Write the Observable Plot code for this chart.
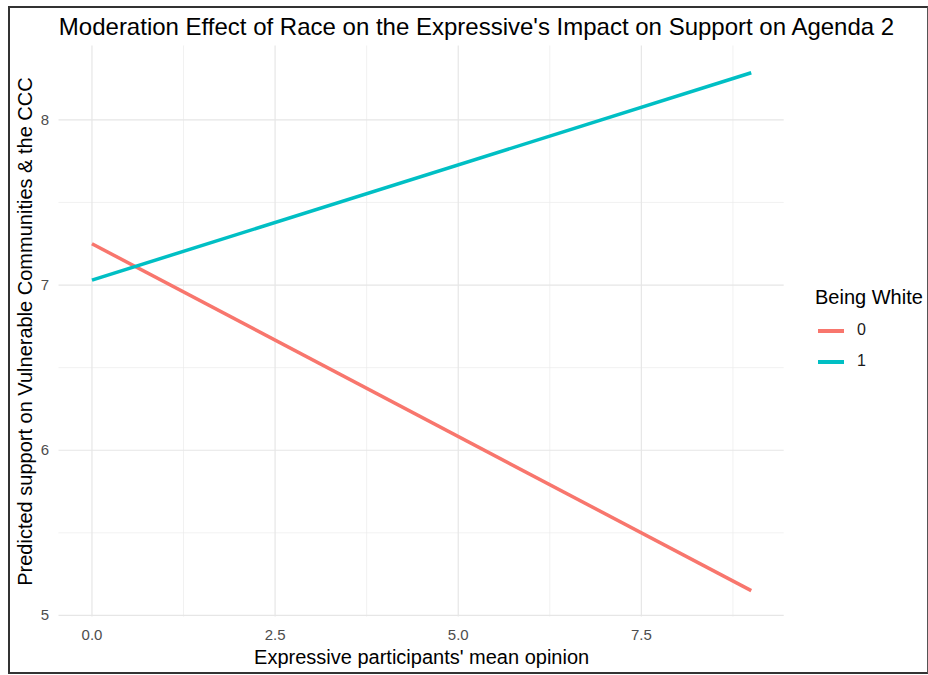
<!DOCTYPE html>
<html>
<head>
<meta charset="utf-8">
<script src="https://cdn.jsdelivr.net/npm/d3@7"></script>
<script src="https://cdn.jsdelivr.net/npm/@observablehq/plot@0.6"></script>
<style>
  html, body { margin: 0; padding: 0; background: #fff; }
  body { font-family: "Liberation Sans", Arial, sans-serif; }
  #wrap { position: relative; width: 928px; height: 675px; overflow: hidden; background: #fff; }
  #frame { position: absolute; left: 8px; top: 6px; width: 920px; height: 668px;
           border: 2px solid #333; border-right: 1.5px solid #555;
           box-sizing: border-box; pointer-events: none; z-index: 5; }
  #title { position: absolute; left: 0; top: 13px; width: 953px; text-align: center;
           font-size: 24px; line-height: 28px; color: #000; white-space: nowrap; }
  #chart { position: absolute; left: 0; top: 44px; }
  #legend { position: absolute; left: 815px; top: 284px; color: #000; white-space: nowrap; }
  #legend .lt { font-size: 20px; line-height: 26px; margin-bottom: 8px; }
  #legend .row { position: relative; height: 31px; }
  #legend .key { position: absolute; left: 3px; top: 11px; width: 26px; height: 3.5px; }
  #legend .lab { position: absolute; left: 42px; top: 1px; font-size: 16px; line-height: 22px; color: #1a1a1a; }
</style>
</head>
<body>
<div id="wrap">
  <div id="frame"></div>
  <div id="title"></div>
  <div id="chart"></div>
  <div id="legend"></div>
</div>
<script>
// ---- data ----
const titleText = "Moderation Effect of Race on the Expressive's Impact on Support on Agenda 2";
const xTitle = "Expressive participants' mean opinion";
const yTitle = "Predicted support on Vulnerable Communities & the CCC";
const legendTitle = "Being White";
const groups = ["0", "1"];
const groupColors = ["#F8766D", "#00BFC4"];
const xValues = [0, 9];
const yWhite0 = [7.25, 5.15];
const yWhite1 = [7.03, 8.285];
const xTicks = [0, 2.5, 5, 7.5];
const xMinor = [1.25, 3.75, 6.25, 8.75];
const yTicks = [5, 6, 7, 8];
const yMinor = [5.5, 6.5, 7.5];

// ---- build table ----
const rows = [];
xValues.forEach((x, i) => rows.push({x, y: yWhite0[i], g: groups[0]}));
xValues.forEach((x, i) => rows.push({x, y: yWhite1[i], g: groups[1]}));

document.getElementById("title").textContent = titleText;

const font = "\"Liberation Sans\", Arial, sans-serif";
const fx = d3.format(".1f");
const fy = d3.format("d");
const plot = Plot.plot({
  width: 928,
  height: 631,
  marginLeft: 58.5,
  marginRight: 144.3,
  marginTop: 1.5,
  marginBottom: 58.4,
  style: {fontFamily: font, fontSize: "15px", background: "transparent", overflow: "visible"},
  x: {domain: [-0.45, 9.45], axis: null},
  y: {domain: [4.99, 8.447], axis: null},
  color: {domain: groups, range: groupColors},
  marks: [
    Plot.ruleX(xMinor, {stroke: "#EBEBEB", strokeWidth: 0.7}),
    Plot.ruleY(yMinor, {stroke: "#EBEBEB", strokeWidth: 0.7}),
    Plot.ruleX(xTicks, {stroke: "#E6E6E6", strokeWidth: 1.2}),
    Plot.ruleY(yTicks, {stroke: "#E6E6E6", strokeWidth: 1.2}),
    Plot.text(xTicks, {x: d => d, frameAnchor: "bottom", dy: 18, text: d => fx(d), fontSize: 15, fill: "#4D4D4D", lineAnchor: "middle", textAnchor: "middle"}),
    Plot.text(yTicks, {y: d => d, frameAnchor: "left", dx: -10, text: d => fy(d), fontSize: 15, fill: "#4D4D4D", lineAnchor: "middle", textAnchor: "end"}),
    Plot.line(rows, {x: "x", y: "y", z: "g", stroke: "g", strokeWidth: 3.5, strokeLinecap: "butt"}),
    Plot.text([xTitle], {frameAnchor: "bottom", dy: 40, fontSize: 20, fill: "#000", lineAnchor: "middle", textAnchor: "middle"}),
    Plot.text([yTitle], {frameAnchor: "left", dx: -33, rotate: -90, fontSize: 20, fill: "#000", lineAnchor: "middle", textAnchor: "middle"})
  ]
});
document.getElementById("chart").appendChild(plot);

// ---- legend ----
const leg = document.getElementById("legend");
const lt = document.createElement("div");
lt.className = "lt";
lt.textContent = legendTitle;
leg.appendChild(lt);
groups.forEach((g, i) => {
  const row = document.createElement("div");
  row.className = "row";
  const key = document.createElement("div");
  key.className = "key";
  key.style.background = groupColors[i];
  const lab = document.createElement("div");
  lab.className = "lab";
  lab.textContent = g;
  row.appendChild(key);
  row.appendChild(lab);
  leg.appendChild(row);
});
</script>
</body>
</html>
